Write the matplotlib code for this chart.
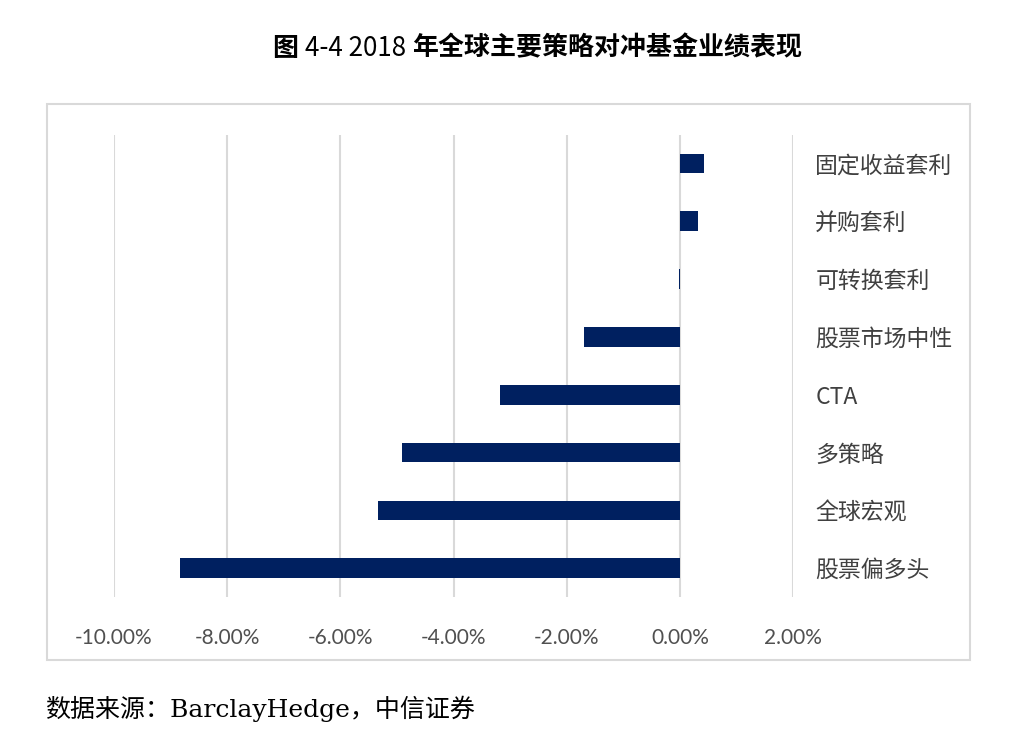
#Bar chart: 2018 returns of the main hedge fund strategies (BarclayHedge)
import matplotlib
matplotlib.use("Agg")
from matplotlib import pyplot as plt
from matplotlib.patches import Rectangle
import numpy as np

plt.rcParams['font.family'] = ['Noto Sans CJK SC', 'DejaVu Sans']

# top to bottom, as in the chart
strategies = ['固定收益套利', '并购套利', '可转换套利', '股票市场中性', 'CTA', '多策略', '全球宏观', '股票偏多头']
returns = [0.42, 0.32, -0.02, -1.70, -3.17, -4.91, -5.33, -8.83]  # percent
xticks = [-10, -8, -6, -4, -2, 0, 2]

# title pieces: (text, weight) - the numbers are in regular weight
title_parts = [('图 ', 'bold'), ('4-4 2018 ', 'normal'), ('年全球主要策略对冲基金业绩表现', 'bold')]

fig = plt.figure(figsize=(10.18, 7.34), dpi=100)
ax = fig.add_axes([0.112, 0.1866, 0.667, 0.63])

# light grey frame around the chart area
fig.patches.append(Rectangle((47 / 1018, 1 - 660 / 734), (970 - 47) / 1018, (660 - 104) / 734,
                             transform=fig.transFigure, fill=False, edgecolor='#d9d9d9', linewidth=1.5))

y = np.arange(len(strategies))
ax.barh(y, returns, height=0.34, color='#002060', zorder=3)

ax.set_xlim(-10, 2)
ax.set_ylim(len(strategies) - 0.5, -0.5)
ax.set_xticks(xticks)
ax.set_xticklabels([f'{v:.2f}%' for v in xticks], family=['Lato', 'DejaVu Sans'],
                   fontsize=15, color='#505050')
ax.tick_params(axis='x', length=0, pad=22)

ax.yaxis.tick_right()
ax.set_yticks(y)
ax.set_yticklabels(strategies, fontsize=16.5, color='#404040')
for lab in ax.get_yticklabels():
    lab.set_horizontalalignment('left')
ax.tick_params(axis='y', length=0, pad=16)

ax.grid(axis='x', color='#d9d9d9', linewidth=1.5, zorder=0)
for s in ax.spines.values():
    s.set_visible(False)

# title, drawn piece by piece so the weights can differ
renderer = fig.canvas.get_renderer()
x0 = 273
for txt, w in title_parts:
    t = fig.text(x0 / 1018, 1 - 48 / 734, txt, ha='left', va='center',
                 fontsize=18.7, fontweight=w, color='black')
    x0 += t.get_window_extent(renderer).width

fig.text(45 / 1018, 1 - 709 / 734, '数据来源：BarclayHedge，中信证券', ha='left', va='center',
         fontsize=18, family=['DejaVu Serif', 'Noto Sans CJK SC'], color='black')

fig.savefig('out.png', dpi=100)
